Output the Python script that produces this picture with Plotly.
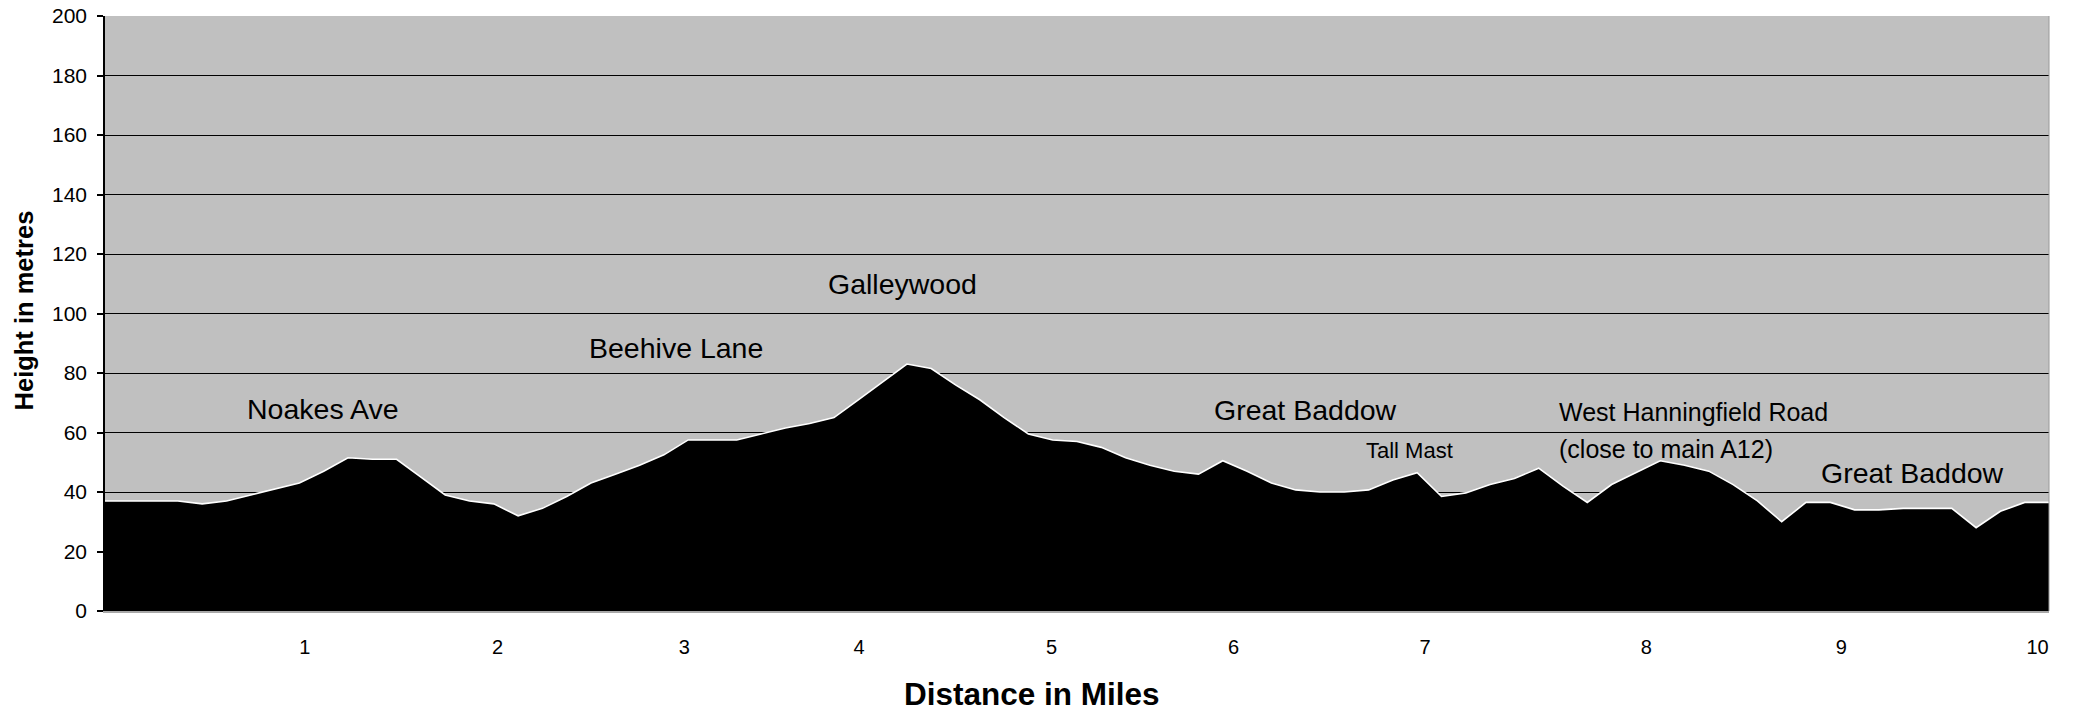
import plotly.graph_objects as go

# ---- data ----
point_index = list(range(81))
height_m = [37, 37, 37, 37, 36, 37, 39, 41, 43, 47,
            51.5, 51, 51, 45, 39, 37, 36, 32, 34.5, 38.5,
            43, 46, 49, 52.5, 57.5, 57.5, 57.5, 59.5, 61.5, 63,
            65, 71, 77, 83, 81.5, 76, 71, 65, 59.5, 57.5,
            57, 55, 51.5, 49, 47, 46, 50.5, 47, 43, 40.7,
            40, 40, 40.7, 44, 46.5, 38.5, 39.7, 42.5, 44.5, 48,
            42, 36.5, 42.5, 46.5, 50.5, 49, 47, 42.5, 37, 30,
            36.5, 36.5, 34, 34, 34.5, 34.5, 34.5, 28, 33.5, 36.5,
            36.5]
mile_labels = ["1", "2", "3", "4", "5", "6", "7", "8", "9", "10"]
mile_label_pos = [8.22, 16.15, 23.84, 31.03, 38.95, 46.44, 54.32, 63.43, 71.45, 79.53]
place_names = ["Noakes Ave", "Beehive Lane", "Galleywood", "Great Baddow", "Tall Mast",
               "West Hanningfield Road", "(close to main A12)", "Great Baddow"]
y_ticks = list(range(0, 201, 20))

FONT = "Liberation Sans, Arial, sans-serif"

fig = go.Figure()
fig.add_trace(go.Scatter(
    x=point_index, y=height_m, mode="lines",
    fill="tozeroy", fillcolor="black",
    line=dict(color="white", width=1.6),
    hoverinfo="skip", showlegend=False,
))

# annotation placement (data coords): x, y, xanchor, font size
ann_place = [
    (8.99, 67.8, "center", 28.5),
    (23.5, 88.4, "center", 28.5),
    (32.8, 109.9, "center", 28.5),
    (49.4, 67.5, "center", 28.5),
    (53.7, 53.8, "center", 22),
    (59.75, 66.8, "left", 25),
    (59.75, 54.3, "left", 25),
    (74.4, 46.5, "center", 28.5),
]
annotations = []
for name, (ax, ay, anc, fs) in zip(place_names, ann_place):
    annotations.append(dict(x=ax, y=ay, xref="x", yref="y", text=name, showarrow=False,
                            xanchor=anc, yanchor="middle",
                            font=dict(family=FONT, size=fs, color="black")))

annotations.append(dict(x=0.4769, y=-0.1395, xref="paper", yref="paper",
                        text="<b>Distance in Miles</b>", showarrow=False,
                        xanchor="center", yanchor="middle",
                        font=dict(family=FONT, size=31.5, color="black")))
annotations.append(dict(x=-0.0417, y=0.505, xref="paper", yref="paper",
                        text="<b>Height in metres</b>", showarrow=False, textangle=-90,
                        xanchor="center", yanchor="middle",
                        font=dict(family=FONT, size=25.5, color="black")))

fig.update_layout(
    width=2078, height=711,
    autosize=False,
    margin=dict(l=105, r=29, t=16, b=100, autoexpand=False),
    paper_bgcolor="white",
    plot_bgcolor="#C0C0C0",
    font=dict(family=FONT, color="black"),
    annotations=annotations,
    shapes=[dict(type="line", xref="paper", yref="paper", x0=1, x1=1, y0=0, y1=1,
                 line=dict(color="#9a9a9a", width=1))],
)
fig.update_xaxes(
    range=[0, 80], tickmode="array", tickvals=mile_label_pos, ticktext=mile_labels,
    showgrid=False, zeroline=False, showline=True, linecolor="#a8a8a8", linewidth=1.5,
    automargin=False,
    ticks="", ticklabelstandoff=17, tickfont=dict(family=FONT, size=20, color="black"),
)
fig.update_yaxes(
    range=[0, 200], tickmode="array", tickvals=y_ticks,
    showgrid=True, gridcolor="black", gridwidth=1.3, zeroline=False,
    showline=True, linecolor="black", linewidth=1.5, automargin=False,
    ticks="outside", ticklen=6, tickcolor="black", tickwidth=1.5,
    ticklabelstandoff=6, tickfont=dict(family=FONT, size=21, color="black"),
)

fig.write_html(
    "out.html",
    config={"displayModeBar": False},
    post_script="document.body.style.margin='0';document.body.style.overflow='hidden';",
)
